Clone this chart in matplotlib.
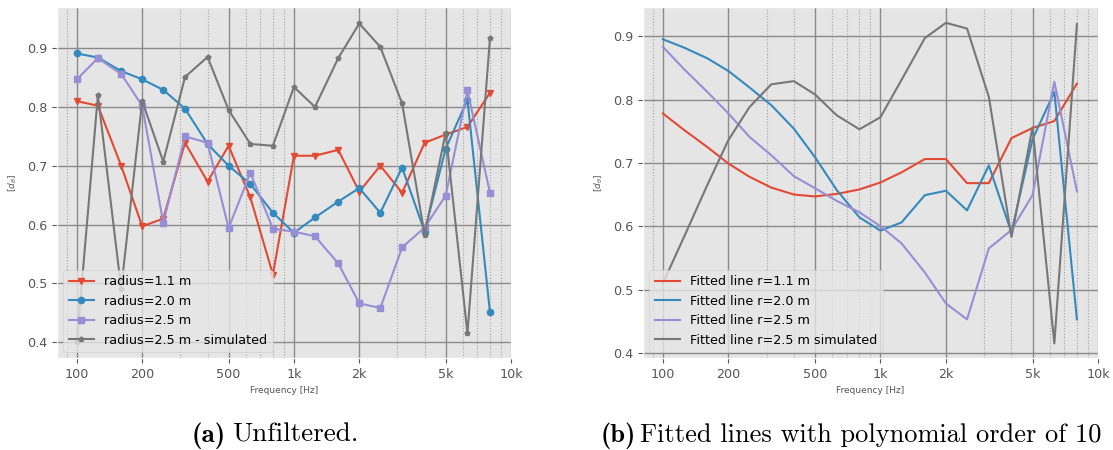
import matplotlib
matplotlib.use("Agg")
import matplotlib.pyplot as plt
from matplotlib.ticker import FixedLocator, FuncFormatter, LogLocator, NullFormatter

plt.style.use("ggplot")

freqs = [100, 125, 160, 200, 250, 315, 400, 500, 630, 800,
         1000, 1250, 1600, 2000, 2500, 3150, 4000, 5000, 6300, 8000]

# (a) Unfiltered
r11 = [0.810, 0.802, 0.700, 0.597, 0.610, 0.739, 0.673, 0.734, 0.646, 0.515,
       0.717, 0.717, 0.727, 0.656, 0.700, 0.654, 0.739, 0.753, 0.766, 0.824]
r20 = [0.891, 0.884, 0.861, 0.847, 0.829, 0.797, 0.737, 0.700, 0.669, 0.620,
       0.586, 0.612, 0.639, 0.662, 0.620, 0.697, 0.588, 0.729, 0.812, 0.451]
r25 = [0.847, 0.883, 0.856, 0.802, 0.603, 0.750, 0.739, 0.594, 0.688, 0.593,
       0.588, 0.580, 0.534, 0.466, 0.458, 0.561, 0.595, 0.649, 0.828, 0.654]
r25sim = [0.400, 0.820, 0.491, 0.810, 0.707, 0.851, 0.885, 0.795, 0.737, 0.734,
          0.834, 0.800, 0.883, 0.942, 0.902, 0.806, 0.583, 0.756, 0.415, 0.917]

# (b) Fitted lines
f11 = [0.778, 0.752, 0.725, 0.699, 0.678, 0.661, 0.650, 0.647, 0.651, 0.658,
       0.669, 0.685, 0.706, 0.706, 0.668, 0.668, 0.739, 0.755, 0.766, 0.825]
f20 = [0.895, 0.882, 0.865, 0.845, 0.819, 0.791, 0.754, 0.709, 0.657, 0.614,
       0.593, 0.606, 0.649, 0.656, 0.625, 0.696, 0.590, 0.737, 0.812, 0.453]
f25 = [0.883, 0.848, 0.812, 0.778, 0.741, 0.712, 0.679, 0.660, 0.640, 0.622,
       0.600, 0.573, 0.527, 0.478, 0.453, 0.565, 0.594, 0.649, 0.828, 0.655]
f25sim = [0.510, 0.583, 0.665, 0.736, 0.788, 0.824, 0.829, 0.808, 0.775, 0.753,
          0.772, 0.831, 0.897, 0.921, 0.912, 0.804, 0.583, 0.756, 0.415, 0.919]

major_ticks = [100, 200, 500, 1000, 2000, 5000, 10000]
tick_labels = ["100", "200", "500", "1k", "2k", "5k", "10k"]

RED, BLUE, PURPLE, GRAY = "#E24A33", "#348ABD", "#988ED5", "#777777"

fig = plt.figure(figsize=(11.13, 4.5), dpi=100)
fig.patch.set_facecolor("white")

axL = fig.add_axes([57 / 1113, 92 / 450, 454 / 1113, 351 / 450])
axR = fig.add_axes([643 / 1113, 92 / 450, 455 / 1113, 351 / 450])

axL.plot(freqs, r11, color=RED, marker="v", ms=4.5, lw=1.5, label="radius=1.1 m")
axL.plot(freqs, r20, color=BLUE, marker="o", ms=4.5, lw=1.5, label="radius=2.0 m")
axL.plot(freqs, r25, color=PURPLE, marker="s", ms=4.5, lw=1.5, label="radius=2.5 m")
axL.plot(freqs, r25sim, color=GRAY, marker="p", ms=3.5, lw=1.5, label="radius=2.5 m - simulated")

axR.plot(freqs, f11, color=RED, lw=1.5, label="Fitted line r=1.1 m")
axR.plot(freqs, f20, color=BLUE, lw=1.5, label="Fitted line r=2.0 m")
axR.plot(freqs, f25, color=PURPLE, lw=1.5, label="Fitted line r=2.5 m")
axR.plot(freqs, f25sim, color=GRAY, lw=1.5, label="Fitted line r=2.5 m simulated")

for ax, ylim in ((axL, (0.373, 0.970)), (axR, (0.392, 0.946))):
    ax.set_xscale("log")
    ax.set_xlim(81, 10000)
    ax.set_ylim(*ylim)
    ax.set_yticks([0.4, 0.5, 0.6, 0.7, 0.8, 0.9])
    ax.xaxis.set_major_locator(FixedLocator(major_ticks))
    ax.xaxis.set_major_formatter(FuncFormatter(
        lambda v, p: dict(zip(major_ticks, tick_labels)).get(int(round(v)), "")))
    ax.xaxis.set_minor_locator(LogLocator(base=10, subs=range(1, 10)))
    ax.xaxis.set_minor_formatter(NullFormatter())
    ax.set_axisbelow(True)
    ax.grid(which="major", color="#8a8a8a", linestyle="-", linewidth=1.0)
    ax.grid(which="minor", axis="x", color="#a0a0a0", linestyle=":", linewidth=0.8)
    ax.tick_params(axis="both", which="major", labelsize=9.2, colors="#555555")
    ax.tick_params(axis="x", which="minor", length=0)
    ax.set_xlabel("Frequency [Hz]", fontsize=6.5, color="#555555")
    ax.set_ylabel(r"[$d_\theta$]", fontsize=6.5, color="#555555", labelpad=6)
    ax.legend(loc="lower left", fontsize=9.2, handlelength=2.0)

cap_y = 1 - 442 / 450
fig.text(192 / 1113, cap_y, "(a)", family="cmb10", fontsize=19.5,
         ha="left", va="baseline")
fig.text(232 / 1113, cap_y, "Unfiltered.", family="cmr10", fontsize=19.5,
         ha="left", va="baseline")
fig.text(601 / 1113, cap_y, "(b)", family="cmb10", fontsize=19.0,
         ha="left", va="baseline")
fig.text(640 / 1113, cap_y, "Fitted lines with polynomial order of 10",
         family="cmr10", fontsize=19.0, ha="left", va="baseline")

fig.savefig("out.png", dpi=100, facecolor="white")
